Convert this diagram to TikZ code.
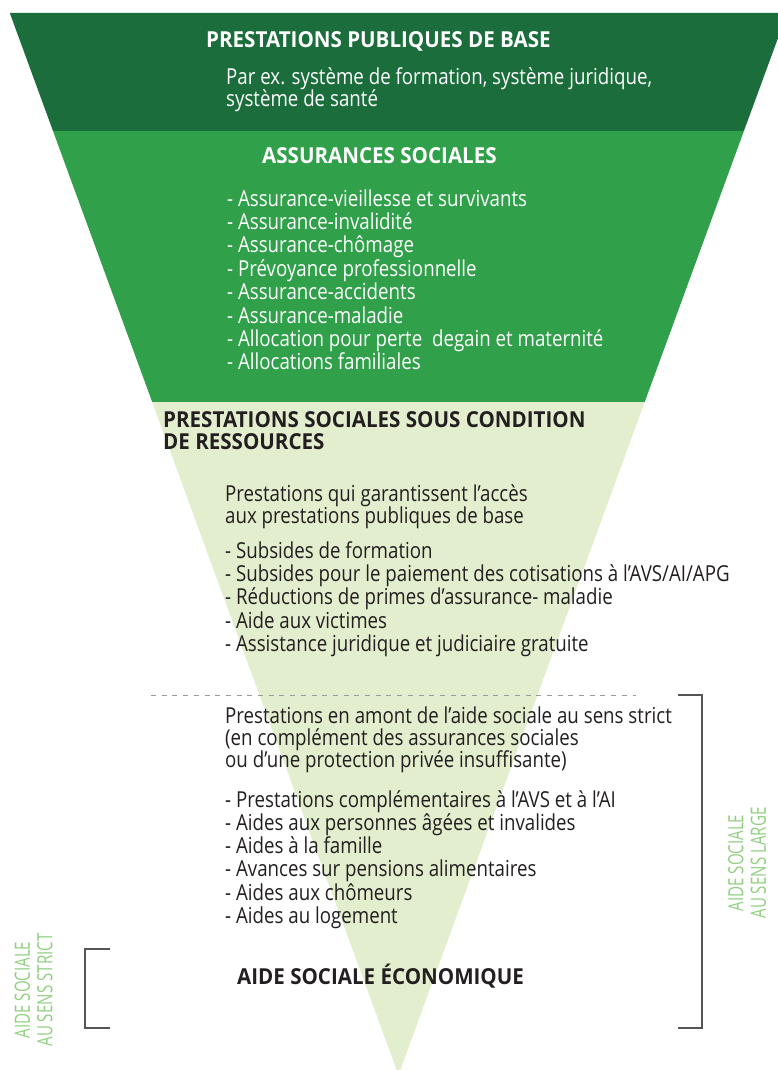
\documentclass[tikz,border=0pt]{standalone}
\usepackage{fontspec}
\setmainfont{Open Sans}[FakeStretch=0.85]
\newfontfamily\headfont{Open Sans}[FakeStretch=0.935]
\newfontfamily\sidefont{Open Sans}[FakeStretch=0.72]
\definecolor{darkgr}{HTML}{1B6E3B}
\definecolor{midgr}{HTML}{30A04A}
\definecolor{lightgr}{HTML}{E2EECD}
\definecolor{sidegr}{HTML}{90CF80}
\definecolor{inktxt}{HTML}{231F20}
\definecolor{brk}{HTML}{555555}
\definecolor{dashgr}{HTML}{9A9A9A}
\tikzset{
  bodytxt/.style={anchor=base west, inner sep=0pt, font=\fontsize{22}{23}\selectfont},
  headtxt/.style={anchor=base west, inner sep=0pt, font=\headfont\bfseries\fontsize{22}{23}\selectfont},
  sidetxt/.style={inner sep=0pt, rotate=90, align=center, text=sidegr, font=\sidefont\fontsize{21}{22.5}\selectfont},
  bracketline/.style={draw=brk, line width=1.1pt},
  sepline/.style={draw=dashgr, line width=1pt, dash pattern=on 5pt off 5.7pt}
}
\begin{document}
\begin{tikzpicture}[x=1pt,y=-1pt]
\useasboundingbox (0,0) rectangle (778,1070);
\clip (0,0) rectangle (778,1070);
% funnel
\fill[darkgr] (9.8,13) -- (787.2,13) -- (743.9,131) -- (53.0,131) -- cycle;
\fill[midgr] (53.0,131) -- (743.9,131) -- (644.7,402) -- (152.2,402) -- cycle;
\fill[lightgr] (152.2,402) -- (644.7,402) -- (398.5,1075) -- cycle;

% block 1
\node[headtxt, text=white] (t1) at (206,48) {PRESTATIONS PUBLIQUES DE BASE};
\node[bodytxt, text=white] (p1a) at (226,85) {Par ex. système de formation, système juridique,};
\node[bodytxt, text=white] (p1b) at (226,107) {système de santé};

% block 2
\node[headtxt, text=white] (t2) at (262,163) {ASSURANCES SOCIALES};
\foreach \t [count=\i] in {{- Assurance-vieillesse et survivants},{- Assurance-invalidité},{- Assurance-chômage},{- Prévoyance professionnelle},{- Assurance-accidents},{- Assurance-maladie},{- Allocation pour perte \ degain et maternité},{- Allocations familiales}}
  \node[bodytxt, text=white] (as\i) at (227,{206+23.4*(\i-1)}) {\t};

% block 3
\node[headtxt, text=inktxt] (t3a) at (163,427) {PRESTATIONS SOCIALES SOUS CONDITION};
\node[headtxt, text=inktxt] (t3b) at (163,449) {DE RESSOURCES};
\node[bodytxt, text=inktxt] (p3a) at (225,501) {Prestations qui garantissent l’accès};
\node[bodytxt, text=inktxt] (p3b) at (225,523) {aux prestations publiques de base};
\foreach \t [count=\i] in {{- Subsides de formation},{- Subsides pour le paiement des cotisations à l’AVS/AI/APG},{- Réductions de primes d’assurance- maladie},{- Aide aux victimes},{- Assistance juridique et judiciaire gratuite}}
  \node[bodytxt, text=inktxt] (ps\i) at (225,{558+23.4*(\i-1)}) {\t};

% separator
\coordinate (dl) at (151,695);
\coordinate (dr) at (636,695);
\draw[sepline] (dl) -- (dr);

% block 4
\node[bodytxt, text=inktxt] (p4a) at (225,723) {Prestations en amont de l’aide sociale au sens strict};
\node[bodytxt, text=inktxt] (p4b) at (225,745) {(en complément des assurances sociales};
\node[bodytxt, text=inktxt] (p4c) at (225,767) {ou d’une protection privée insuffisante)};
\foreach \t [count=\i] in {{- Prestations complémentaires à l’AVS et à l’AI},{- Aides aux personnes âgées et invalides},{- Aides à la famille},{- Avances sur pensions alimentaires},{- Aides aux chômeurs},{- Aides au logement}}
  \node[bodytxt, text=inktxt] (pa\i) at (225,{807+23.3*(\i-1)}) {\t};
\node[headtxt, text=inktxt] (t5) at (237,984) {AIDE SOCIALE ÉCONOMIQUE};

% brackets
\coordinate (rb1) at (678,695);
\coordinate (rb2) at (702,695);
\coordinate (rb3) at (702,1028);
\coordinate (rb4) at (678,1028);
\draw[bracketline] (rb1) -- (rb2) -- (rb3) -- (rb4);
\coordinate (lb1) at (110,949);
\coordinate (lb2) at (85,949);
\coordinate (lb3) at (85,1028);
\coordinate (lb4) at (110,1028);
\draw[bracketline] (lb1) -- (lb2) -- (lb3) -- (lb4);

% side labels
\node[sidetxt] (sstrict) at (33.5,990) {AIDE SOCIALE\\AU SENS STRICT};
\node[sidetxt] (slarge) at (747,863) {AIDE SOCIALE\\AU SENS LARGE};
\end{tikzpicture}
\end{document}
